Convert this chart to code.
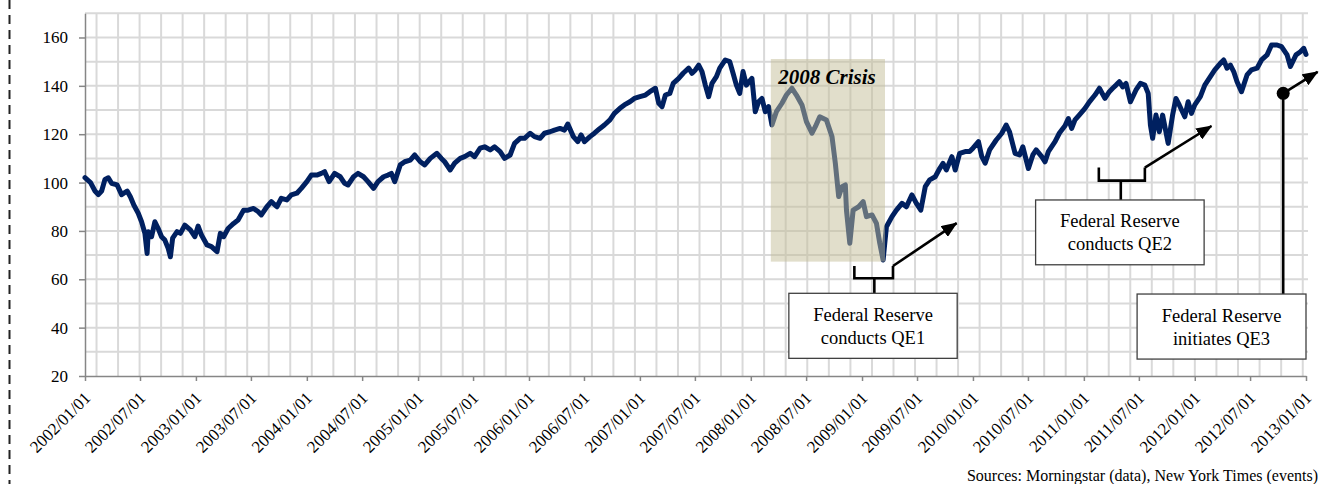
<!DOCTYPE html>
<html>
<head>
<meta charset="utf-8">
<script src="https://cdn.jsdelivr.net/npm/d3@7"></script>
<style>
  body { margin: 0; background: #fff; }
  svg text { font-family: "Liberation Serif", "Times New Roman", serif; fill: #000; }
</style>
</head>
<body>
<div id="chart"></div>
<script>
// index level (dates as decimal years)
const years = [
  2002.00, 2002.05, 2002.09, 2002.12, 2002.15, 2002.18, 2002.21, 2002.24, 2002.29, 2002.33,
  2002.38, 2002.41, 2002.44, 2002.48, 2002.51, 2002.54, 2002.56, 2002.57, 2002.60, 2002.63,
  2002.66, 2002.69, 2002.72, 2002.75, 2002.77, 2002.79, 2002.83, 2002.86, 2002.90, 2002.95,
  2002.99, 2003.02, 2003.05, 2003.10, 2003.14, 2003.19, 2003.22, 2003.25, 2003.29, 2003.34,
  2003.38, 2003.43, 2003.47, 2003.52, 2003.56, 2003.59, 2003.64, 2003.68, 2003.73, 2003.77,
  2003.82, 2003.86, 2003.91, 2003.95, 2004.00, 2004.04, 2004.09, 2004.13, 2004.16, 2004.20,
  2004.25, 2004.30, 2004.34, 2004.37, 2004.42, 2004.46, 2004.51, 2004.55, 2004.60, 2004.64,
  2004.69, 2004.73, 2004.76, 2004.79, 2004.84, 2004.88, 2004.93, 2004.97, 2005.02, 2005.06,
  2005.11, 2005.17, 2005.21, 2005.24, 2005.29, 2005.33, 2005.38, 2005.42, 2005.47, 2005.51,
  2005.56, 2005.60, 2005.65, 2005.69, 2005.74, 2005.78, 2005.83, 2005.87, 2005.92, 2005.96,
  2006.01, 2006.05, 2006.10, 2006.14, 2006.19, 2006.23, 2006.28, 2006.32, 2006.35, 2006.40,
  2006.44, 2006.47, 2006.50, 2006.55, 2006.59, 2006.64, 2006.68, 2006.73, 2006.77, 2006.82,
  2006.86, 2006.91, 2006.95, 2007.00, 2007.05, 2007.09, 2007.14, 2007.17, 2007.20, 2007.23,
  2007.27, 2007.30, 2007.35, 2007.39, 2007.44, 2007.47, 2007.50, 2007.53, 2007.56, 2007.59,
  2007.62, 2007.65, 2007.69, 2007.72, 2007.77, 2007.81, 2007.84, 2007.87, 2007.90, 2007.93,
  2007.96, 2008.01, 2008.04, 2008.07, 2008.10, 2008.13, 2008.16, 2008.19, 2008.23, 2008.28,
  2008.32, 2008.37, 2008.41, 2008.46, 2008.50, 2008.55, 2008.58, 2008.62, 2008.68, 2008.73,
  2008.76, 2008.79, 2008.82, 2008.85, 2008.86, 2008.89, 2008.92, 2008.97, 2009.01, 2009.04,
  2009.09, 2009.13, 2009.16, 2009.19, 2009.22, 2009.27, 2009.31, 2009.36, 2009.40, 2009.45,
  2009.49, 2009.53, 2009.57, 2009.61, 2009.66, 2009.70, 2009.73, 2009.76, 2009.81, 2009.84,
  2009.88, 2009.93, 2009.97, 2010.00, 2010.05, 2010.08, 2010.11, 2010.15, 2010.21, 2010.26,
  2010.30, 2010.33, 2010.38, 2010.42, 2010.45, 2010.50, 2010.54, 2010.57, 2010.62, 2010.65,
  2010.68, 2010.74, 2010.78, 2010.83, 2010.86, 2010.89, 2010.92, 2010.96, 2011.01, 2011.05,
  2011.10, 2011.14, 2011.19, 2011.23, 2011.26, 2011.29, 2011.32, 2011.35, 2011.38, 2011.42,
  2011.47, 2011.51, 2011.55, 2011.58, 2011.60, 2011.62, 2011.65, 2011.68, 2011.71, 2011.76,
  2011.80, 2011.83, 2011.86, 2011.91, 2011.94, 2011.97, 2012.00, 2012.05, 2012.09, 2012.14,
  2012.18, 2012.23, 2012.26, 2012.29, 2012.32, 2012.35, 2012.38, 2012.42, 2012.47, 2012.51,
  2012.56, 2012.60, 2012.65, 2012.69, 2012.74, 2012.78, 2012.83, 2012.86, 2012.91, 2012.95,
  2012.98, 2013.00
]
const values = [
  102, 100, 96.5, 95, 96.5, 101.3, 102, 99.7, 99, 95,
  96.5, 94, 90.7, 87.3, 83.8, 79, 70.7, 79.7, 77.6, 83.8,
  81, 77.6, 76.2, 72.8, 69.3, 77, 79.7, 79, 82.4, 80.4,
  77.6, 82, 78.3, 74.2, 73.5, 71.4, 79, 77.6, 81, 83.1,
  84.5, 88.6, 88.6, 89.3, 88, 86.6, 90, 92.1, 90, 93.5,
  92.8, 94.9, 95.6, 97.6, 100.4, 103.1, 103.1, 103.8, 104.5, 100.4,
  103.8, 102.4, 99.7, 99, 102.4, 103.8, 102.4, 100.4, 97.6, 100.4,
  102.4, 103.1, 103.8, 100.4, 107.3, 108.6, 109.3, 111.4, 108.6, 107.3,
  110, 112.1, 110, 108.6, 105.2, 108, 110, 110.7, 112.1, 110.7,
  114.2, 114.8, 113.5, 114.8, 112.8, 110, 111.4, 116.2, 118.3, 118.3,
  120.4, 119, 118.3, 120.4, 121, 121.7, 122.4, 121.7, 124.2, 119,
  116.9, 119.7, 116.9, 119, 120.4, 122.4, 123.8, 125.9, 128.6, 130.7,
  132.1, 133.4, 134.8, 135.5, 136.2, 137.6, 139, 132.8, 131.4, 136.2,
  136.9, 141, 143.1, 145.2, 147.3, 145.2, 146.6, 148.6, 145.9, 140.3,
  135.5, 141, 143.8, 147.3, 150.7, 150, 145.2, 140.3, 136.9, 145.9,
  140.3, 143.1, 129.3, 133.4, 134.8, 129.3, 131.4, 123.8, 129.3, 132.8,
  136.2, 139, 136.2, 132.1, 125.2, 120.4, 123.1, 127.2, 125.9, 119,
  108, 94.2, 98.3, 99, 88.6, 74.9, 88.6, 90, 92.1, 85.9,
  86.6, 83.1, 74.9, 68, 81.7, 85.9, 88.6, 91.4, 90, 94.9,
  91.4, 88.6, 98.3, 101.1, 102.4, 105.8, 107.9, 105.2, 110.7, 105.2,
  112.1, 112.8, 112.8, 114.2, 116.9, 110.7, 108, 113.5, 117.6, 120.4,
  123.8, 121, 112.1, 111.4, 114.8, 105.8, 111.4, 113.5, 110.7, 108.6,
  112.8, 116.9, 120.5, 123.5, 126.5, 122.4, 125.9, 128, 130.7, 133.4,
  136.2, 139, 134.8, 137.6, 139, 140.3, 141.7, 139.6, 141, 133.4,
  138.3, 141, 140.3, 136.9, 123.8, 118.3, 127.9, 121, 127.9, 116.2,
  127.9, 134.8, 132.1, 127.2, 133.4, 128.6, 132.1, 135.5, 140.3, 143.8,
  146.6, 149.3, 150.7, 147.3, 148.6, 145.9, 141.7, 137.6, 144.5, 146.6,
  147.3, 150.7, 152.8, 156.9, 156.9, 156.2, 152.8, 148, 152.8, 154.1,
  155.5, 153
]

const xTickLabels = [
  '2002/01/01', '2002/07/01', '2003/01/01', '2003/07/01', '2004/01/01', '2004/07/01',
  '2005/01/01', '2005/07/01', '2006/01/01', '2006/07/01', '2007/01/01', '2007/07/01',
  '2008/01/01', '2008/07/01', '2009/01/01', '2009/07/01', '2010/01/01', '2010/07/01',
  '2011/01/01', '2011/07/01', '2012/01/01', '2012/07/01', '2013/01/01'
]
const yTicks = [20, 40, 60, 80, 100, 120, 140, 160]

// events
const qeLabels = [
  ['Federal Reserve', 'conducts QE1'],
  ['Federal Reserve', 'conducts QE2'],
  ['Federal Reserve', 'initiates QE3']
]
const crisisLabel = '2008 Crisis'
const sourceNote = 'Sources: Morningstar (data), New York Times (events)'

const width = 1328
const height = 484
const serif = '"Liberation Serif", "Times New Roman", serif'

const parseTick = d3.timeParse('%Y/%m/%d')
const fmtTick = d3.timeFormat('%Y/%m/%d')

function toDate(yr) {
  const y0 = Math.floor(yr)
  const a = new Date(y0, 0, 1)
  const b = new Date(y0 + 1, 0, 1)
  return new Date(+a + (yr - y0) * (b - a))
}

const data = years.map((yr, i) => ({ date: toDate(yr), value: values[i] }))

const svg = d3
  .select('#chart')
  .append('svg')
  .attr('width', width)
  .attr('height', height)
  .attr('font-family', serif)

const x = d3
  .scaleTime()
  .domain([new Date(2002, 0, 1), new Date(2013, 0, 1)])
  .range([85, 1306])

const y = d3
  .scaleLinear()
  .domain([20, 170])
  .range([376, 13.3])

const px = yr => x(toDate(yr))

// dashed rule at far left
svg
  .append('line')
  .attr('x1', 9.5)
  .attr('x2', 9.5)
  .attr('y1', 0)
  .attr('y2', height)
  .attr('stroke', '#222')
  .attr('stroke-width', 2)
  .attr('stroke-dasharray', '9,6')

// grid
const grid = svg.append('g').attr('stroke', '#d9d9d9').attr('stroke-width', 2)

grid
  .selectAll('.hgrid')
  .data(d3.range(30, 171, 10))
  .enter()
  .append('line')
  .attr('x1', x.range()[0])
  .attr('x2', x.range()[1] + 2)
  .attr('y1', d => y(d))
  .attr('y2', d => y(d))

grid
  .selectAll('.vgrid')
  .data(d3.range(2002.104, 2013.0, 0.19405))
  .enter()
  .append('line')
  .attr('x1', d => px(d))
  .attr('x2', d => px(d))
  .attr('y1', y(20))
  .attr('y2', y(170))

// axes
const xAxis = svg
  .append('g')
  .attr('transform', `translate(0,${y(20)})`)
  .call(
    d3
      .axisBottom(x)
      .tickValues(xTickLabels.map(parseTick))
      .tickFormat(fmtTick)
      .tickSize(5)
      .tickSizeOuter(0)
  )

xAxis
  .selectAll('text')
  .attr('font-size', 17)
  .attr('text-anchor', 'end')
  .attr('dy', 0)
  .attr('y', 0)
  .attr('transform', 'translate(6,23) rotate(-45)')

const yAxis = svg
  .append('g')
  .attr('transform', `translate(${x.range()[0]},0)`)
  .call(
    d3
      .axisLeft(y)
      .tickValues(yTicks)
      .tickSize(6)
      .tickPadding(11)
      .tickSizeOuter(0)
  )

yAxis.selectAll('text').attr('font-size', 17)

svg.selectAll('g').filter(function() { return this.hasAttribute('font-family') }).attr('font-family', serif)
svg.selectAll('.domain').attr('stroke', '#868686').attr('stroke-width', 1.5)
svg.selectAll('.tick line').attr('stroke', '#868686').attr('stroke-width', 1.5)
svg.selectAll('.tick text').attr('fill', '#000')

// index line
const line = d3
  .line()
  .x(d => x(d.date))
  .y(d => y(d.value))

svg
  .append('path')
  .datum(data)
  .attr('d', line)
  .attr('fill', 'none')
  .attr('stroke', '#002060')
  .attr('stroke-width', 5)
  .attr('stroke-linejoin', 'round')
  .attr('stroke-linecap', 'round')

// 2008 crisis shading
svg
  .append('rect')
  .attr('x', px(2008.18))
  .attr('y', y(151.1))
  .attr('width', px(2009.207) - px(2008.18))
  .attr('height', y(67.3) - y(151.1))
  .attr('fill', '#c4bd97')
  .attr('opacity', 0.5)

svg
  .append('text')
  .attr('x', px(2008.685))
  .attr('y', y(140.8))
  .attr('text-anchor', 'middle')
  .attr('font-size', 21)
  .attr('font-weight', 'bold')
  .attr('font-style', 'italic')
  .text(crisisLabel)

// arrowheads
svg
  .append('defs')
  .append('marker')
  .attr('id', 'arrow')
  .attr('viewBox', '0 0 16 13')
  .attr('refX', 15)
  .attr('refY', 6.5)
  .attr('markerWidth', 16)
  .attr('markerHeight', 13)
  .attr('markerUnits', 'userSpaceOnUse')
  .attr('orient', 'auto')
  .append('path')
  .attr('d', 'M0,0 L16,6.5 L0,13 Z')
  .attr('fill', '#000')

function labelBox(x0, x1, v0, v1, lines) {
  const g = svg.append('g')
  g.append('rect')
    .attr('x', px(x0))
    .attr('y', y(v1))
    .attr('width', px(x1) - px(x0))
    .attr('height', y(v0) - y(v1))
    .attr('fill', '#fff')
    .attr('stroke', '#404040')
    .attr('stroke-width', 1.3)
  const cx = (px(x0) + px(x1)) / 2
  const cy = (y(v0) + y(v1)) / 2
  g.selectAll('text')
    .data(lines)
    .enter()
    .append('text')
    .attr('x', cx)
    .attr('y', (d, i) => cy + (i === 0 ? -11.5 : 11.5))
    .attr('dy', '0.35em')
    .attr('text-anchor', 'middle')
    .attr('font-size', 18.5)
    .text(d => d)
}

function brace(left, right, stem, top, bottom, boxTop, tip) {
  const g = svg
    .append('g')
    .attr('fill', 'none')
    .attr('stroke', '#000')
    .attr('stroke-width', 2.6)
  const p = d3.path()
  p.moveTo(px(left), y(top))
  p.lineTo(px(left), y(bottom))
  p.lineTo(px(right), y(bottom))
  p.lineTo(px(right), y(top))
  p.moveTo(px(stem), y(bottom))
  p.lineTo(px(stem), y(boxTop))
  g.append('path').attr('d', p.toString())
  g.append('line')
    .attr('x1', px(right))
    .attr('y1', y(top))
    .attr('x2', px(tip[0]))
    .attr('y2', y(tip[1]))
    .attr('marker-end', 'url(#arrow)')
}

// QE1
brace(2008.931, 2009.279, 2009.111, 65.5, 60.4, 54.2, [2009.853, 83.2])
labelBox(2008.342, 2009.858, 27.3, 54.2, qeLabels[0])

// QE2
brace(2011.135, 2011.55, 2011.333, 106.2, 100.8, 92.8, [2012.15, 123.4])
labelBox(2010.565, 2012.084, 66.0, 92.8, qeLabels[1])

// QE3
svg
  .append('line')
  .attr('x1', px(2012.795))
  .attr('x2', px(2012.795))
  .attr('y1', y(136.9))
  .attr('y2', y(53.9))
  .attr('stroke', '#000')
  .attr('stroke-width', 2.6)
svg
  .append('line')
  .attr('x1', px(2012.795))
  .attr('y1', y(136.9))
  .attr('x2', px(2013.105))
  .attr('y2', y(145.8))
  .attr('stroke', '#000')
  .attr('stroke-width', 2.6)
  .attr('marker-end', 'url(#arrow)')
svg
  .append('circle')
  .attr('cx', px(2012.795))
  .attr('cy', y(136.9))
  .attr('r', 6.5)
  .attr('fill', '#000')
labelBox(2011.48, 2013.0, 27.0, 53.9, qeLabels[2])

// source note
svg
  .append('text')
  .attr('x', 1318)
  .attr('y', 481)
  .attr('text-anchor', 'end')
  .attr('font-size', 16)
  .text(sourceNote)
</script>
</body>
</html>
